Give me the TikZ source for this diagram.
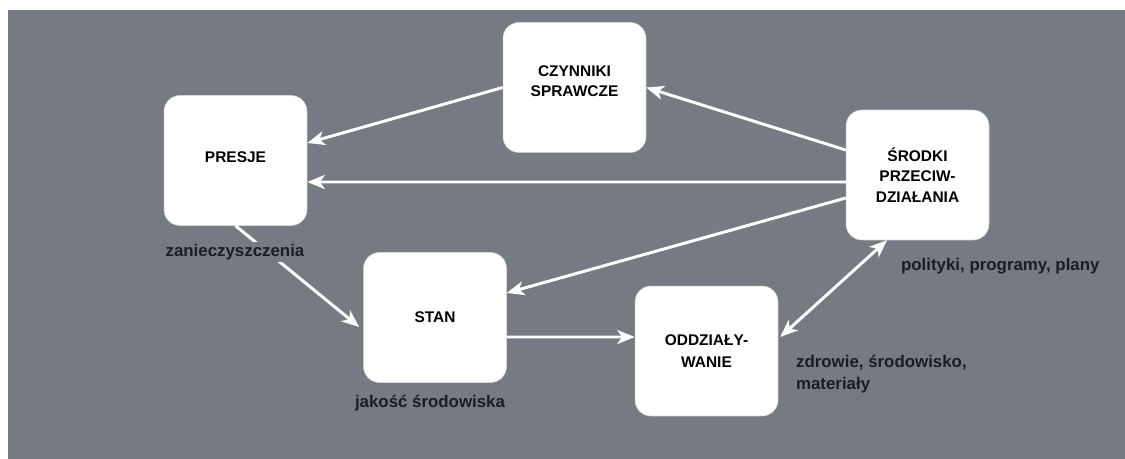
\documentclass[tikz,border=0pt]{standalone}
\usepackage{fontspec}
\setmainfont{Liberation Sans}
\usetikzlibrary{arrows.meta,calc}
\definecolor{bggray}{RGB}{118,122,131}
\definecolor{txtdark}{RGB}{28,28,36}
\tikzset{
  box/.style={rectangle, rounded corners=0.32cm, fill=white, draw=white!85!black, line width=0.3pt,
    minimum width=2.86cm, minimum height=2.6cm, align=center, inner sep=0pt,
    font=\fontsize{8.8}{11.6}\selectfont\bfseries, text=black},
  lbl/.style={font=\fontsize{9.6}{12.6}\selectfont\bfseries, text=txtdark, inner sep=1pt},
  conn/.style={draw=white, line width=1.7pt,
    -{Stealth[length=10pt,width=8pt,inset=2.8pt,fill=white]}},
  conn2/.style={draw=white, line width=1.7pt,
    {Stealth[length=10pt,width=8pt,inset=2.8pt,fill=white]}-{Stealth[length=10pt,width=8pt,inset=2.8pt,fill=white]}}
}
\begin{document}
\begin{tikzpicture}[x=0.02cm,y=-0.02cm]
\useasboundingbox (0,0) rectangle (1125,459);
\fill[white] (0,0) rectangle (1125,459);
\fill[bggray] (8,10) rectangle (1125,459);

\node[box] (cz) at (574.5,87.5) {CZYNNIKI\\SPRAWCZE\\[-4.2pt]};
\node[box] (pr) at (235.5,160.5) {PRESJE\\[-7.6pt]};
\node[box] (st) at (435,317.5) {STAN};
\node[box] (od) at (706.5,351) {ODDZIAŁY-\\[1pt]WANIE};
\node[box] (sr) at (917.5,175) {ŚRODKI\\PRZECIW-\\DZIAŁANIA};

\draw[conn] (cz.west) -- ($(pr.east)+(0,-17.5)$);
\draw[conn] ($(sr.west)+(0,-25)$) -- (cz.east);
\draw[conn] ($(sr.west)+(0,7)$) -- ($(pr.east)+(0,21.5)$);
\draw[conn] ($(sr.west)+(0,23)$) -- ($(st.east)+(0,-24.5)$);
\draw[conn] (pr.south) -- ($(st.west)+(-4,9.5)$);
\draw[conn] ($(st.east)+(0,19.5)$) -- ($(od.west)+(0,-14)$);
\draw[conn2] ($(od.east)+(2,-14)$) -- ($(sr.south)+(-30.5,0)$);

\node[lbl, fill=bggray] (l1) at (235,252) {zanieczyszczenia};
\node[lbl] (l2) at (430,403) {jakość środowiska};
\node[lbl, anchor=west] (l3) at (899,266) {polityki, programy, plany};
\node[lbl, anchor=west, align=left] (l4) at (794,374) {zdrowie, środowisko,\\materiały};
\end{tikzpicture}
\end{document}
